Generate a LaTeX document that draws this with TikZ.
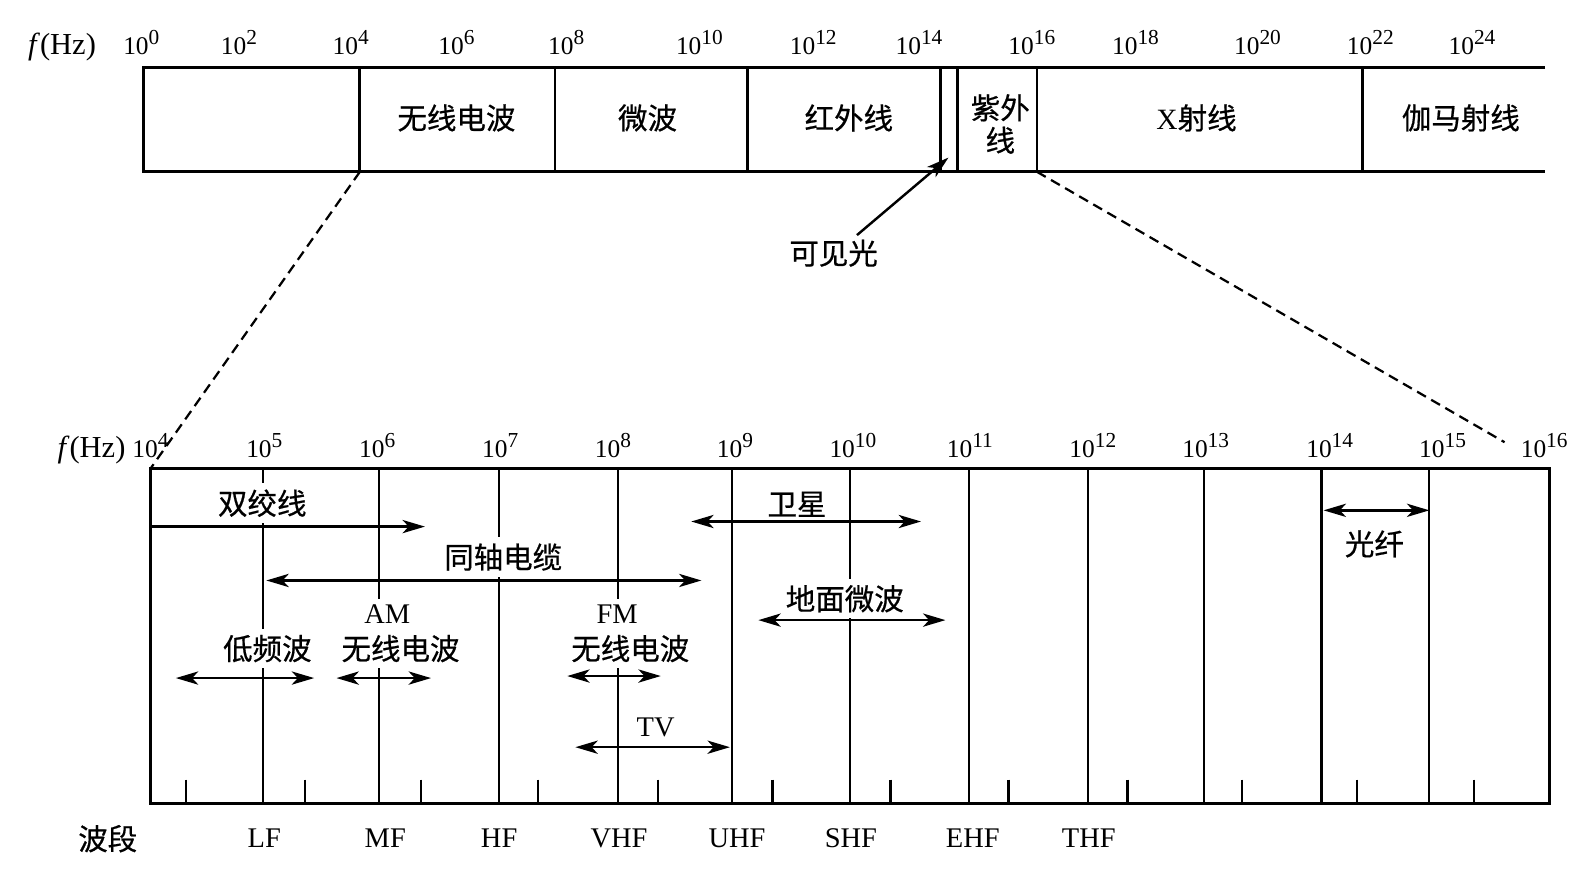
\documentclass[tikz,border=0pt]{standalone}
\usepackage{fontspec}
\setmainfont{Liberation Serif}
\newfontfamily\cjk[FakeBold=0.6]{Noto Sans CJK SC}
\usetikzlibrary{arrows.meta}

\newcommand\tenpow[1]{10\raisebox{5pt}{\fontsize{10.5pt}{10.5pt}\selectfont #1}}

\begin{document}
\begin{tikzpicture}[x=0.5pt, y=-0.5pt,
                    freq/.style={font=\fontsize{12.5pt}{14pt}\selectfont, inner sep=0pt, anchor=base},
                    axis/.style={font=\fontsize{15pt}{17pt}\selectfont, inner sep=0pt, anchor=base},
                    band/.style={font=\fontsize{14pt}{16pt}\selectfont, inner sep=0pt, anchor=base},
                    zh/.style={font=\cjk\fontsize{14.5pt}{16.5pt}\selectfont, inner sep=2pt},
                    en/.style={font=\fontsize{14pt}{16pt}\selectfont, inner sep=2pt},
                    cover/.style={fill=white, inner sep=3pt},
                    boxline/.style={line width=1.4pt},
                    divider/.style={line width=1.1pt},
                    spanarrow/.style={line width=1.2pt, {Stealth[length=11pt,width=6.5pt,inset=3pt]}-{Stealth[length=11pt,width=6.5pt,inset=3pt]}},
                    oneway/.style={line width=1.2pt, -{Stealth[length=11pt,width=6.5pt,inset=3pt]}},
                    zoomline/.style={line width=1.1pt, dash pattern=on 5pt off 3pt}
                ]
                \useasboundingbox (0,0) rectangle (1568,856);

                % Whole spectrum
                \draw[boxline] (1520,66) -- (141,66) -- (141,169) -- (1520,169);
                \foreach \x in {354,546,735,925,942,1020,1340}
                    \draw[boxline] (\x,66) -- (\x,169);
                \coordinate (tdiv4) at (354,169);
                \coordinate (tdiv16) at (1020,169);

                \node[axis] (thz) at (61,54) {\textit{f}(Hz)};
                \foreach \x/\e in {139/0,235/2,345/4,449/6,557/8,688/10,800/12,904/14,1015/16,1117/18,1237/20,1348/22,1448/24}
                    \node[freq] (tf\e) at (\x,54) {\tenpow{\e}};

                \node[zh] (radio) at (449,116) {无线电波};
                \node[zh] (micro) at (637,116) {微波};
                \node[zh] (ir) at (835,116) {红外线};
                \node[zh, align=center, font=\cjk\fontsize{14.5pt}{16pt}\selectfont] (uv) at (984,122) {紫外\\线};
                \node[zh] (xray) at (1177,116) {\textrm{X}射线};
                \node[zh] (gamma) at (1437,116) {伽马射线};

                \node[zh] (vis) at (820,249) {可见光};
                \coordinate (visgap) at (933,155);
                \draw[oneway] ([xshift=11.5pt]vis.north) -- (visgap);

                % Radio part
                \coordinate (bNW) at (148,461);
                \coordinate (zR) at (1480,435);
                \draw[zoomline] (tdiv4) -- (bNW);
                \draw[zoomline] (tdiv16) -- (zR);

                \foreach \x in {259,373,491,608,720,836,953,1070,1184,1300,1406}
                    \draw[divider] (\x,461) -- (\x,790);
                \foreach \x in {183,300,414,529,647,760,876,992,1109,1222,1335,1450}
                    \draw[divider] (\x,767) -- (\x,790);
                \draw[boxline] (bNW) rectangle (1524,790);

                \node[axis] (bhz) at (90,450) {\textit{f}(Hz)};
                \foreach \x/\e in {148/4,260/5,371/6,492/7,603/8,723/9,839/10,954/11,1075/12,1186/13,1308/14,1419/15,1519/16}
                    \node[freq] (bf\e) at (\x,450) {\tenpow{\e}};

                \node[zh] (bands) at (106,825) {波段};
                \foreach \x/\b in {260/LF,379/MF,491/HF,609/VHF,725/UHF,837/SHF,957/EHF,1071/THF}
                    \node[band] (\b) at (\x,834) {\b};

                % Media and services
                \node[zh, cover] (twisted) at (258,495) {双绞线};
                \node[zh, cover] (coax) at (495,548) {同轴电缆};
                \node[zh] (sat) at (784,496) {卫星};
                \node[zh, cover] (ground) at (831,589) {地面微波};
                \node[zh] (fiber) at (1352,535) {光纤};
                \node[zh, cover] (lowf) at (263,638) {低频波};
                \node[en, cover] (am) at (381,604) {AM};
                \node[zh, cover] (amradio) at (394,638) {无线电波};
                \node[en, cover] (fm) at (607,604) {FM};
                \node[zh, cover] (fmradio) at (620,638) {无线电波};
                \node[en] (tv) at (645,716) {TV};

                \draw[oneway] (148,518) -- (418,518);
                \draw[spanarrow] (262,571) -- (690,571);
                \draw[spanarrow] (680,513) -- (906,513);
                \draw[spanarrow] (746,610) -- (930,610);
                \draw[spanarrow] (1302,502) -- (1406,502);
                \draw[spanarrow] (173,667) -- (309,667);
                \draw[spanarrow] (331,667) -- (424,667);
                \draw[spanarrow] (558,665) -- (650,665);
                \draw[spanarrow] (566,735) -- (718,735);
            \end{tikzpicture}
\end{document}
